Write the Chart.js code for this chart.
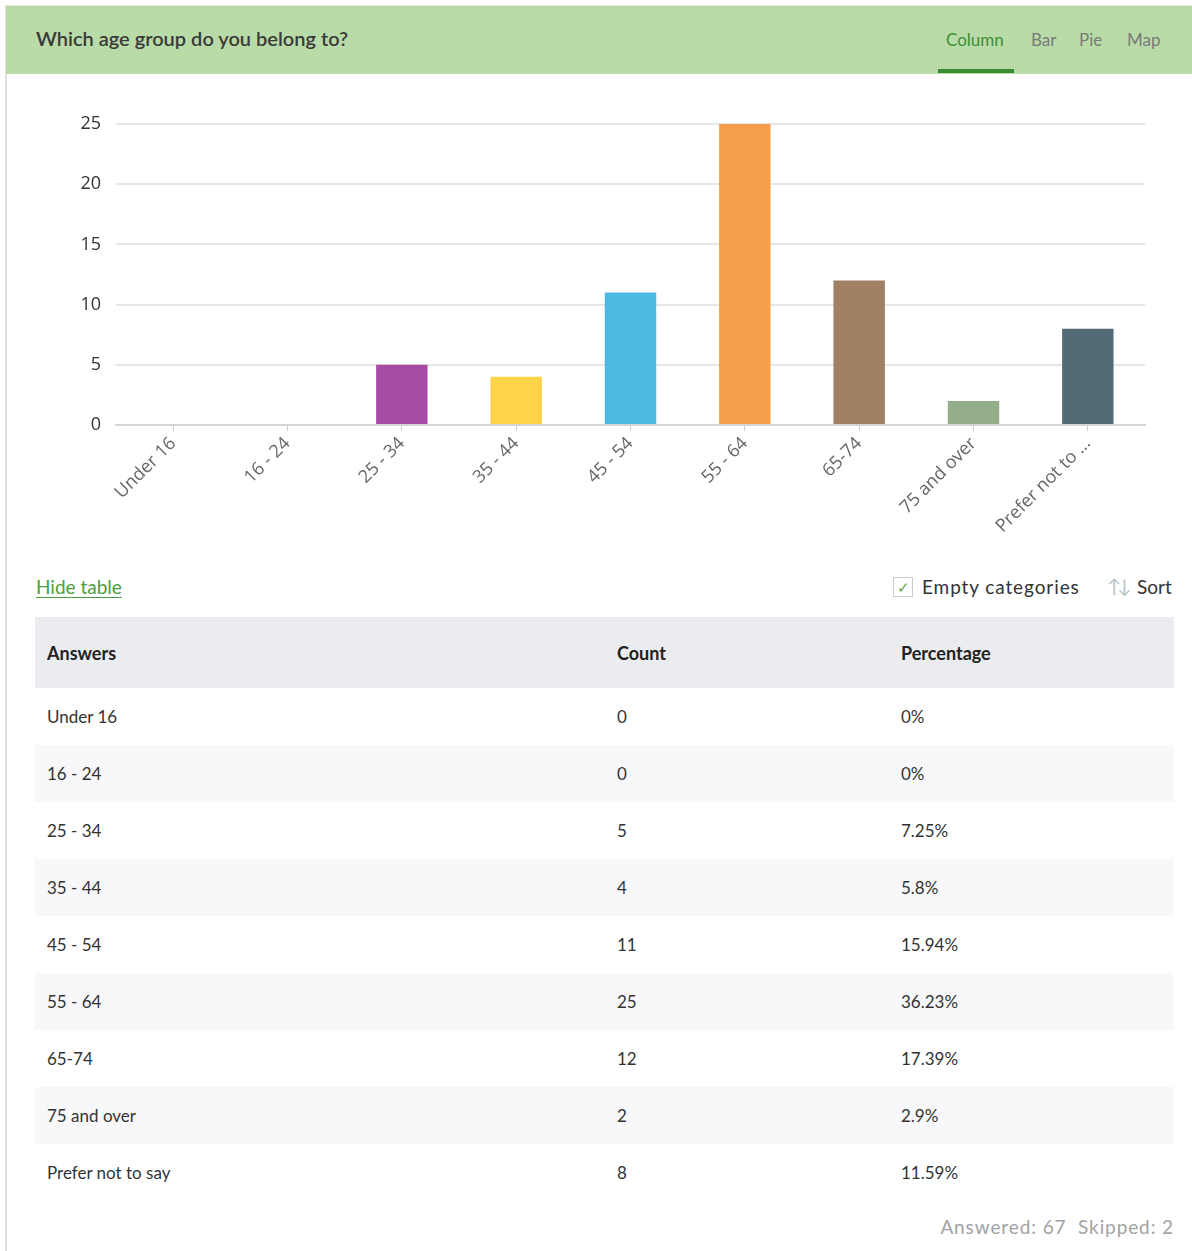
<!DOCTYPE html>
<html>
<head>
<meta charset="utf-8">
<script src="https://cdn.jsdelivr.net/npm/chart.js@4"></script>
<style>
  body { margin: 0; background: #fff; font-family: Lato, "Noto Sans", sans-serif; color: #333; }
  #frame { position: absolute; left: 5px; top: 5px; width: 1187px; height: 1246px; border-left: 2px solid #dedede; border-top: 1px solid #e6e6e6; }
  #header { position: absolute; left: 6px; top: 6px; width: 1186px; height: 68px; background: #b9dba7; }
  #title { position: absolute; left: 30px; top: 20px; font-size: 20px; color: #3a3a3a; font-weight: 600; }
  .tab { position: absolute; top: 23px; font-size: 17px; color: #7a7a7a; }
  #tabline { position: absolute; left: 932px; top: 63px; width: 76px; height: 4px; background: #3b8c33; }
  #chartBox { position: absolute; left: 6px; top: 90px; width: 1180px; height: 470px; }
  #hide { position: absolute; left: 36px; top: 575px; font-size: 19px; color: #4a9e3e; text-decoration: underline; text-underline-offset: 3px; }
  #chk { position: absolute; left: 893px; top: 577px; width: 18px; height: 18px; border: 1px solid #ccc; color: #5aa34a; font-size: 15px; line-height: 18px; text-align: center; }
  #empty { position: absolute; left: 922px; top: 575px; font-size: 19px; color: #333; letter-spacing: 0.9px; }
  #sorticon { position: absolute; left: 1107px; top: 574px; font-size: 19px; color: #b8c2c8; letter-spacing: -4px; }
  #sort { position: absolute; left: 1137px; top: 575px; font-size: 19px; color: #333; }
  table { position: absolute; left: 35px; top: 617px; width: 1139px; border-collapse: collapse; font-size: 17px; }
  th { background: #ebecf0; height: 71px; text-align: left; font-weight: 700; font-size: 18px; padding: 0 12px; color: #222; }
  td { height: 57px; padding: 0 12px; color: #333; }
  tr:nth-child(odd) td { background: #f8f8fa; }
  #foot { position: absolute; right: 18px; top: 1215px; font-size: 19px; color: #a2a2a2; letter-spacing: 0.9px; }
</style>
</head>
<body>
<div id="frame"></div>
<div id="header">
  <div id="title">Which age group do you belong to?</div>
  <div class="tab" style="left:940px;color:#3d8f35">Column</div>
  <div class="tab" style="left:1025px">Bar</div>
  <div class="tab" style="left:1073px">Pie</div>
  <div class="tab" style="left:1121px">Map</div>
  <div id="tabline"></div>
</div>
<div id="chartBox"><canvas id="myChart"></canvas></div>
<div id="hide">Hide table</div>
<div id="chk">&#10003;</div>
<div id="empty">Empty categories</div>
<div id="sorticon">&#8593;&#8595;</div>
<div id="sort">Sort</div>
<table id="tbl"></table>
<div id="foot">Answered: 67&nbsp; Skipped: 2</div>

<script>
// data
var categories = ['Under 16', '16 - 24', '25 - 34', '35 - 44', '45 - 54', '55 - 64', '65-74', '75 and over', 'Prefer not to say']
var counts = [0, 0, 5, 4, 11, 25, 12, 2, 8]
var percentages = ['0%', '0%', '7.25%', '5.8%', '15.94%', '36.23%', '17.39%', '2.9%', '11.59%']
var barColors = ['#a74ca6', '#a74ca6', '#a74ca6', '#fed34a', '#4cb9e2', '#f59e4c', '#a08164', '#93ae89', '#536b76']
var yTicks = [0, 5, 10, 15, 20, 25]

// table below the chart
var tbl = document.getElementById('tbl')
var html = '<tr><th style="width:546px">Answers</th><th style="width:260px">Count</th><th>Percentage</th></tr>'
categories.forEach(function(c, i) {
  html += '<tr><td>' + c + '</td><td>' + counts[i] + '</td><td>' + percentages[i] + '</td></tr>'
})
tbl.innerHTML = html

var ctx = document.getElementById('myChart').getContext('2d');
var chart = new Chart(ctx, {
  type: 'bar',
  data: {
    labels: categories,
    datasets: [{
      data: counts,
      backgroundColor: barColors,
      barPercentage: 0.9,
      categoryPercentage: 0.5
    }]
  },
  options: {
    responsive: true,
    maintainAspectRatio: false,
    animation: false,
    layout: { padding: { top: 34, right: 41, left: 0, bottom: 0 } },
    plugins: { legend: { display: false }, tooltip: { enabled: false } },
    scales: {
      x: {
        grid: { offset: false, drawOnChartArea: false, drawTicks: true, tickLength: 6, color: '#cccccc' },
        border: { display: true, color: '#d4d4d4', width: 2 },
        ticks: {
          color: '#666',
          font: { family: 'Open Sans', size: 18 },
          minRotation: 45,
          maxRotation: 45,
          padding: 2,
          callback: function(v, i) {
            var l = categories[i]
            return l.length > 14 ? l.slice(0, 13) + ' ...' : l
          }
        },
        afterFit: function(scale) { scale.height = 135 }
      },
      y: {
        min: 0,
        max: 25,
        grid: { color: '#e6e6e6', drawTicks: false, lineWidth: 2 },
        border: { display: false },
        ticks: {
          color: '#333',
          stepSize: 5,
          padding: 15,
          font: { family: 'Open Sans', size: 18 },
          callback: function(v) { return yTicks.indexOf(v) >= 0 ? v : '' }
        },
        afterFit: function(scale) { scale.width = 110 }
      }
    }
  }
});
</script>
</body>
</html>
